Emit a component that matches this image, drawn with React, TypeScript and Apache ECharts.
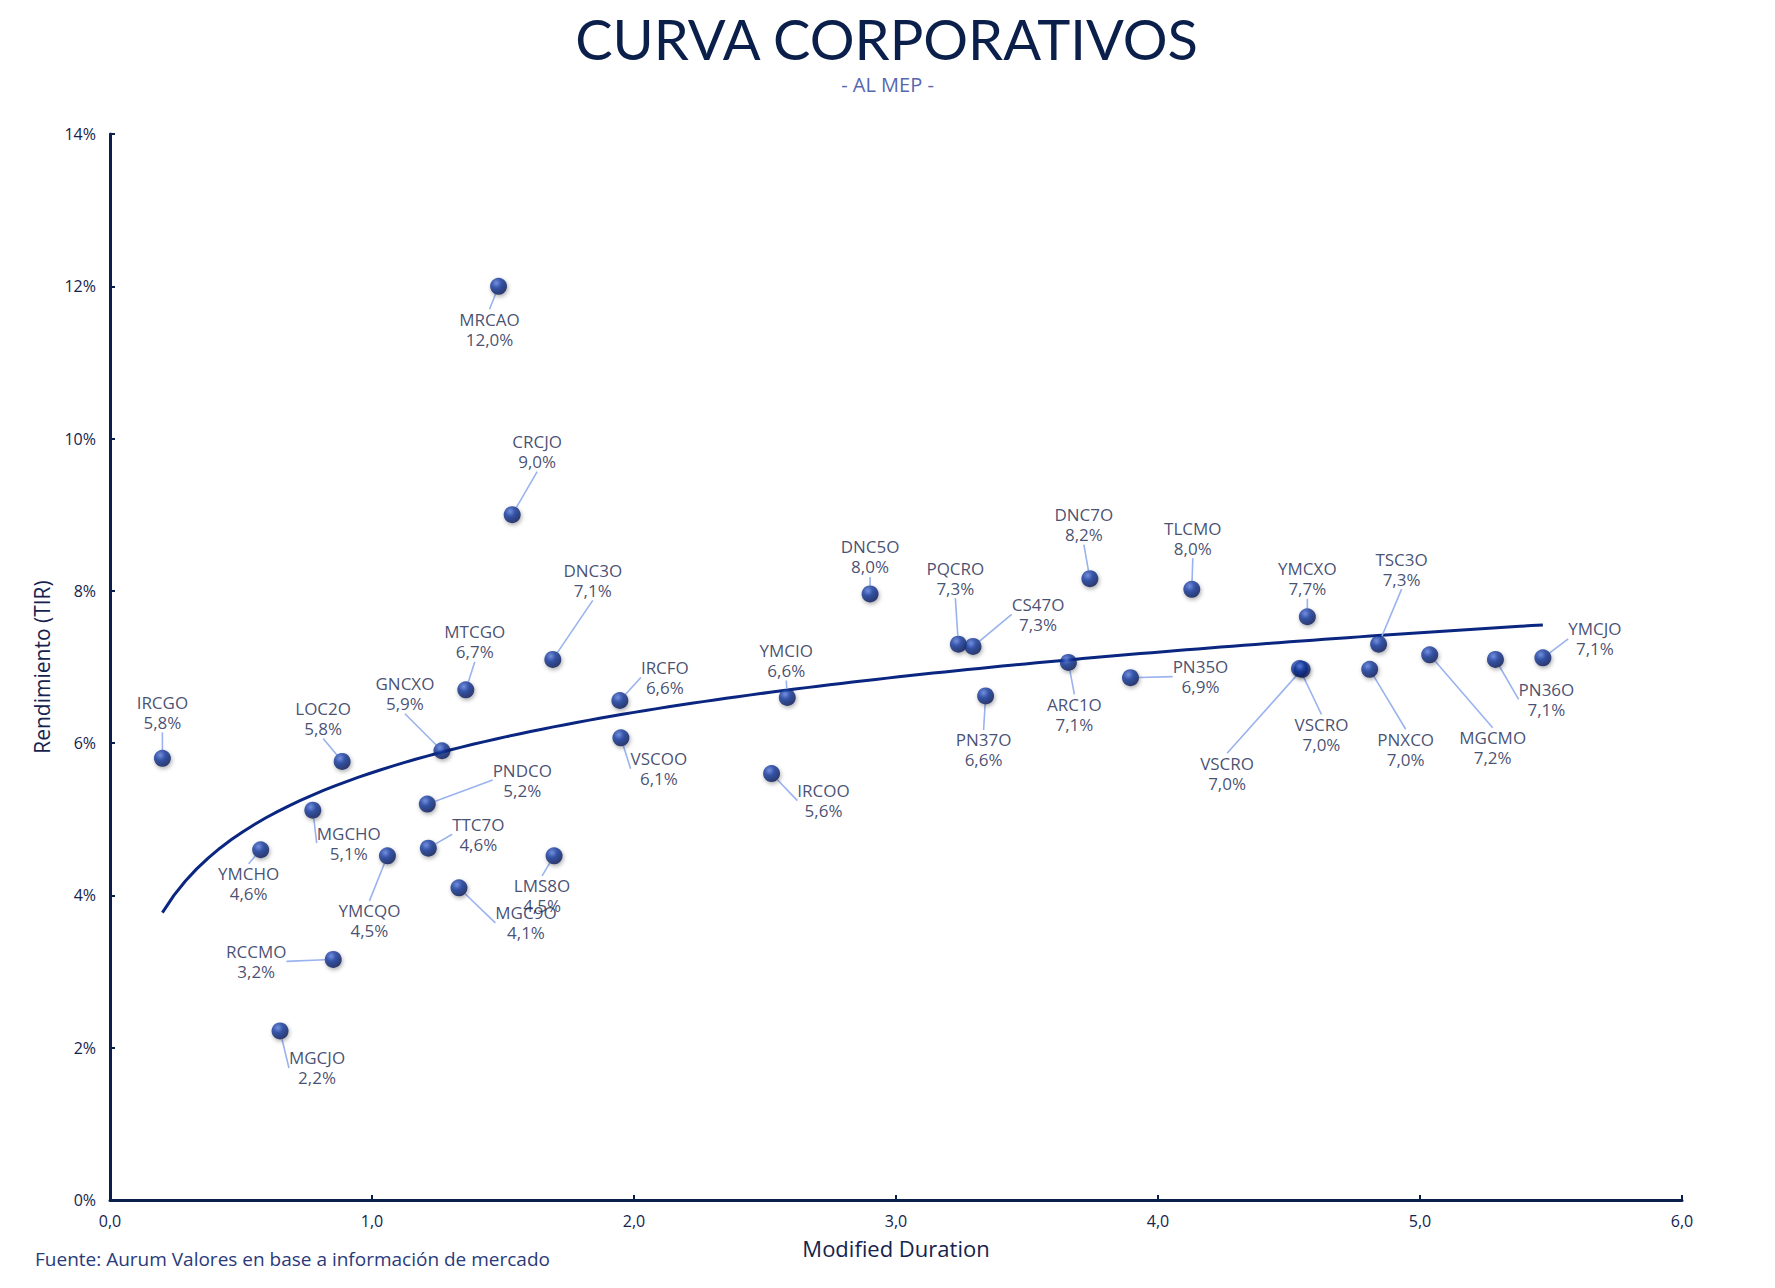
import React, { useEffect, useRef } from "react";
import * as echarts from "echarts";

// ---- data ----
const names = [
  "IRCGO", "LOC2O", "GNCXO", "MTCGO", "DNC3O", "MRCAO", "CRCJO", "PNDCO", "MGCHO",
  "YMCHO", "YMCQO", "TTC7O", "LMS8O", "MGC9O", "RCCMO", "MGCJO", "IRCFO", "VSCOO",
  "YMCIO", "IRCOO", "DNC5O", "PQCRO", "CS47O", "PN37O", "ARC1O", "DNC7O", "PN35O",
  "TLCMO", "YMCXO", "VSCRO", "VSCRO", "TSC3O", "PNXCO", "MGCMO", "PN36O", "YMCJO",
];
const duration = [
  0.2, 0.886, 1.267, 1.358, 1.69, 1.483, 1.535, 1.211, 0.774,
  0.575, 1.059, 1.215, 1.695, 1.332, 0.852, 0.649, 1.946, 1.95,
  2.585, 2.525, 2.901, 3.238, 3.294, 3.342, 3.658, 3.74, 3.895,
  4.129, 4.57, 4.54, 4.55, 4.842, 4.808, 5.037, 5.288, 5.469,
];
const tir = [
  5.8, 5.76, 5.9, 6.7, 7.1, 12.0, 9.0, 5.2, 5.12,
  4.6, 4.52, 4.62, 4.52, 4.1, 3.16, 2.22, 6.56, 6.07,
  6.6, 5.6, 7.96, 7.3, 7.27, 6.62, 7.06, 8.16, 6.86,
  8.02, 7.66, 6.98, 6.97, 7.3, 6.97, 7.16, 7.1, 7.12,
];
const xTicks = [0, 1, 2, 3, 4, 5, 6];
const yTicks = [0, 2, 4, 6, 8, 10, 12, 14];

// label offsets (layout only, pixels relative to the point)
const labelOffsets: [number, number][] = [
  [0, -46], [-19, -43], [-37, -57], [9, -48], [40, -79], [-9, 43], [25, -63], [95, -24], [36, 33],
  [-12, 34], [-18, 65], [50, -14], [-12, 40], [67, 35], [-77, 2], [37, 37], [45, -23], [38, 31],
  [-1, -37], [52, 27], [0, -37], [-3, -66], [65, -32], [-2, 54], [6, 52], [-6, -54], [70, -1],
  [1, -51], [0, -38], [22, 66], [-75, 104], [23, -75], [36, 80], [63, 93], [51, 40], [52, -19],
];

const TITLE_FONT = "Lato, 'Noto Sans', sans-serif";
const FONT = "'Open Sans', 'Noto Sans', sans-serif";
const NAVY = "#0B1F4B";
const TEXT = "#15234E";

function fmtPct(v: number) {
  return v.toFixed(1).replace(".", ",") + "%";
}

// logarithmic least-squares trend line computed from the data
function logTrend() {
  const n = duration.length;
  const us = duration.map((x) => Math.log(x));
  const mu = us.reduce((a, b) => a + b, 0) / n;
  const my = tir.reduce((a, b) => a + b, 0) / n;
  let sxy = 0, sxx = 0;
  for (let i = 0; i < n; i++) {
    sxy += (us[i] - mu) * (tir[i] - my);
    sxx += (us[i] - mu) * (us[i] - mu);
  }
  const b = sxy / sxx;
  const a = my - b * mu;
  const x0 = Math.min(...duration);
  const x1 = Math.max(...duration);
  const pts: [number, number][] = [];
  const steps = 120;
  for (let k = 0; k <= steps; k++) {
    const x = x0 + ((x1 - x0) * k) / steps;
    pts.push([x, a + b * Math.log(x)]);
  }
  return pts;
}

export default function App() {
  const ref = useRef<HTMLDivElement>(null);
  useEffect(() => {
    if (!ref.current) return;
    const chart = echarts.init(ref.current, null, { renderer: "svg" });
    const pointData = names.map((n, i) => ({ name: n, value: [duration[i], tir[i]] }));
    const option: any = {
      animation: false,
      backgroundColor: "#ffffff",
      grid: { left: 110, right: 93, top: 134, bottom: 88, containLabel: false },
      graphic: [
        {
          type: "text", left: "center", top: 10,
          style: { text: "CURVA CORPORATIVOS", font: `400 56px ${TITLE_FONT}`, fill: NAVY },
        },
        {
          type: "text", left: "center", top: 74,
          style: { text: "- AL MEP -", font: `400 20px ${FONT}`, fill: "#5767AE" },
        },
        {
          type: "text", left: 35, top: 1249,
          style: { text: "Fuente: Aurum Valores en base a información de mercado", font: `400 19px ${FONT}`, fill: "#2A3A7A" },
        },
      ],
      xAxis: {
        type: "value", min: 0, max: 6, interval: 1,
        name: "Modified Duration", nameLocation: "middle", nameGap: 37,
        nameTextStyle: { fontFamily: FONT, fontSize: 22, color: TEXT },
        axisLine: { show: true, lineStyle: { color: NAVY, width: 3 } },
        axisTick: { show: true, inside: true, length: 5, lineStyle: { color: NAVY, width: 2 } },
        axisLabel: {
          margin: 13, fontFamily: FONT, fontSize: 16, color: TEXT,
          formatter: (v: number) => (xTicks.includes(v) ? v.toFixed(1).replace(".", ",") : ""),
        },
        splitLine: { show: false },
      },
      yAxis: {
        type: "value", min: 0, max: 14, interval: 2,
        name: "Rendimiento (TIR)", nameLocation: "middle", nameGap: 58,
        nameTextStyle: { fontFamily: FONT, fontSize: 21, color: TEXT },
        axisLine: { show: true, lineStyle: { color: NAVY, width: 3 } },
        axisTick: { show: true, inside: true, length: 5, lineStyle: { color: NAVY, width: 2 } },
        axisLabel: {
          margin: 14, fontFamily: FONT, fontSize: 16, color: TEXT,
          formatter: (v: number) => (yTicks.includes(v) ? v + "%" : ""),
        },
        splitLine: { show: false },
      },
      series: [
        {
          type: "line",
          data: logTrend(),
          showSymbol: false,
          silent: true,
          z: 2,
          lineStyle: { color: "#0A2680", width: 3 },
        },
        {
          type: "scatter",
          data: pointData,
          symbolSize: 17,
          z: 5,
          itemStyle: {
            color: {
              type: "radial", x: 0.38, y: 0.32, r: 0.72,
              colorStops: [
                { offset: 0, color: "#5F80E0" },
                { offset: 0.4, color: "#163A9E" },
                { offset: 1, color: "#061650" },
              ],
            },
            shadowBlur: 4, shadowColor: "rgba(0,0,0,0.4)", shadowOffsetX: 1, shadowOffsetY: 2,
          },
          label: {
            show: true,
            position: "inside",
            formatter: (p: any) => `${p.name}\n${fmtPct(p.value[1])}`,
            fontFamily: FONT, fontSize: 17, lineHeight: 20, color: TEXT, align: "center",
          },
          labelLine: { show: true, lineStyle: { color: "#9AB3EE", width: 1.6 } },
          labelLayout: (params: any) => {
            const off = labelOffsets[params.dataIndex] || [0, 0];
            return { dx: off[0], dy: off[1] };
          },
        },
      ],
    };
    chart.setOption(option);
    return () => chart.dispose();
  }, []);
  return (
    <div
      ref={ref}
      style={{ position: "absolute", left: 0, top: 0, width: 1775, height: 1288, background: "#fff" }}
    />
  );
}
